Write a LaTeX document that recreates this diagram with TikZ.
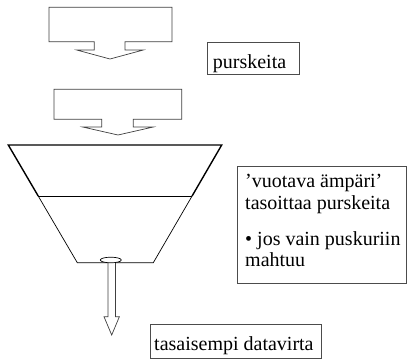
\documentclass[tikz,border=0pt]{standalone}
\usepackage{fontspec}
\setmainfont{Liberation Serif}
\tikzset{
  blockarrow/.style={draw=black!75, line width=0.7pt, fill=white, line join=miter},
  thickedge/.style={draw=black, line width=1.4pt},
  thinedge/.style={draw=black, line width=0.7pt},
  labelbox/.style={draw=black!70, line width=0.7pt, inner sep=0pt, anchor=north west},
  txt/.style={inner sep=0pt, anchor=base west, font=\fontsize{20}{24}\selectfont}
}
\begin{document}
\begin{tikzpicture}[x=1pt, y=-1pt]
\useasboundingbox (0,0) rectangle (407,361);
% block arrow 1
\draw[blockarrow] (49,7.3) -- (172,7.3) -- (172,41.7) -- (125,41.7) -- (125,50) -- (143.3,50)
  -- (110,59) -- (76.7,50) -- (94.3,50) -- (94.3,41.7) -- (49,41.7) -- cycle;
% block arrow 2
\draw[blockarrow] (54,89.3) -- (181.7,89.3) -- (181.7,119.3) -- (133.3,119.3) -- (133.3,127) -- (153.3,127)
  -- (118,135) -- (82.7,127) -- (101.7,127) -- (101.7,119.3) -- (54,119.3) -- cycle;
% bucket
\coordinate (tl) at (8.3,145);
\coordinate (tr) at (221.7,145);
\coordinate (wl) at (38.2,196);
\coordinate (wr) at (192.1,196);
\coordinate (bl) at (77.3,262.7);
\coordinate (br) at (153.3,262.7);
\draw[thickedge, line join=miter] (wl) -- (tl) -- (tr) -- (wr);
\draw[thinedge] (wl) -- (bl) -- (br) -- (wr);
\draw[thinedge] (wl) -- (wr);
% outflow arrow
\draw[blockarrow] (108,261) -- (108,316.7) -- (104,316.7) -- (111.7,335) -- (119.4,316.7)
  -- (115.4,316.7) -- (115.4,261);
\draw[thinedge, fill=white] (110.8,260) ellipse [x radius=10.5, y radius=2.8];
% label boxes
\node[labelbox, minimum width=92pt, minimum height=32pt] (b1) at (207.3,42.3) {};
\node[txt] (t1) at (212.7,68.3) {purskeita};
\node[labelbox, minimum width=169pt, minimum height=117pt] (b2) at (237,166) {};
\node[txt] (t2a) at (245,187.5) {’vuotava ämpäri’};
\node[txt] (t2b) at (245,209) {tasoittaa purskeita};
\node[txt] (t2c) at (245,245) {• jos vain puskuriin};
\node[txt] (t2d) at (245,266.5) {mahtuu};
\node[labelbox, minimum width=171pt, minimum height=34pt] (b3) at (150,324) {};
\node[txt] (t3) at (154,350) {tasaisempi datavirta};
\end{tikzpicture}
\end{document}
